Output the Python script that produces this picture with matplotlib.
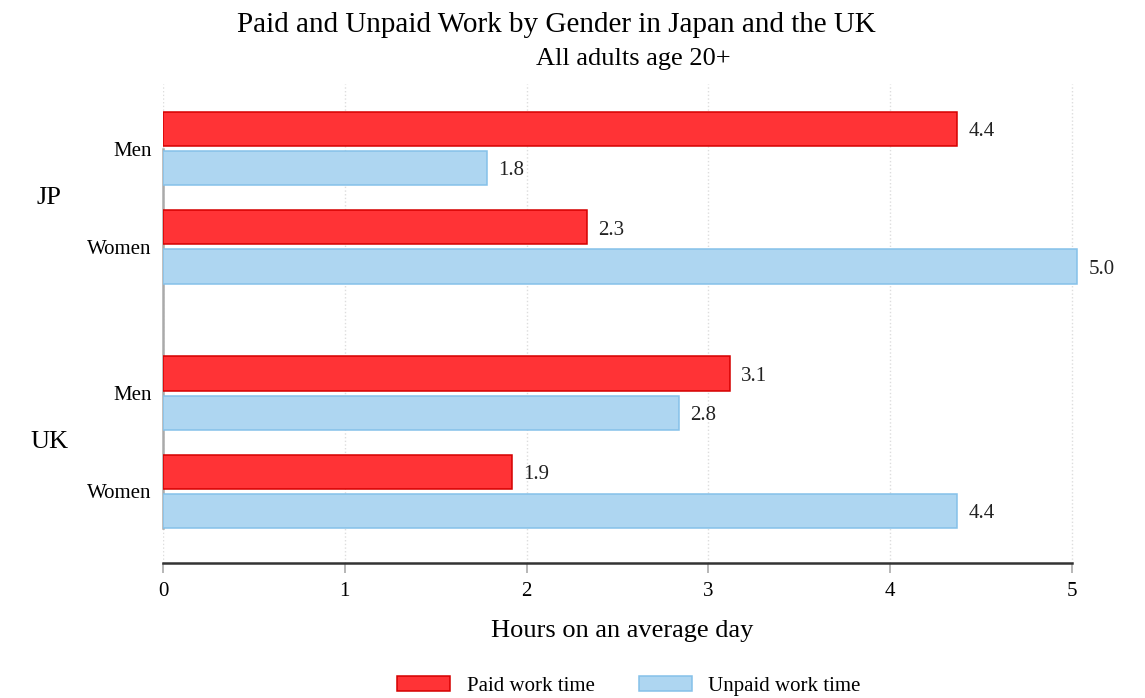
import numpy as np
import matplotlib
matplotlib.use('Agg')
import matplotlib.pyplot as plt
import matplotlib.transforms as mtransforms

plt.rcParams['font.family'] = ['Liberation Serif', 'DejaVu Serif']

# Data (hours on an average day)
countries = ['JP', 'UK']
genders = ['Men', 'Women', 'Men', 'Women']
paidWork = [4.37, 2.33, 3.12, 1.92]
unpaidWork = [1.78, 5.03, 2.84, 4.37]
xTicks = [0, 1, 2, 3, 4, 5]

# Positions of each gender row (JP rows, gap, UK rows)
rowPos = np.array([0.0, 1.0, 2.49, 3.49])
offset = 0.199
barHeight = 0.35

paidFace, paidEdge = '#ff3336', '#d50000'
unpaidFace, unpaidEdge = '#aed6f1', '#85c1e9'

fig = plt.figure(figsize=(11.45, 6.98), dpi=100)
ax = fig.add_axes([163/1145, 1 - 563/698, 918/1145, (563-84)/698])

ax.barh(rowPos - offset, paidWork, height=barHeight, color=paidFace,
        edgecolor=paidEdge, linewidth=1.1, label='Paid work time', zorder=3)
ax.barh(rowPos + offset, unpaidWork, height=barHeight, color=unpaidFace,
        edgecolor=unpaidEdge, linewidth=1.1, label='Unpaid work time', zorder=3)

# Value labels
for y, v in zip(rowPos - offset, paidWork):
    ax.annotate('%.1f' % v, (v, y), xytext=(8, -2), textcoords='offset points',
                va='center', ha='left', fontsize=15, color='#222222')
for y, v in zip(rowPos + offset, unpaidWork):
    ax.annotate('%.1f' % v, (v, y), xytext=(8, -2), textcoords='offset points',
                va='center', ha='left', fontsize=15, color='#222222')

ax.set_xlim(0, 5.05)
ax.set_ylim(4.219, -0.658)
ax.set_xticks(xTicks)
ax.set_xticklabels([str(t) for t in xTicks], fontsize=15)
ax.set_yticks(rowPos)
ax.set_yticklabels(genders, fontsize=15)
ax.tick_params(axis='y', length=0, pad=8)
ax.tick_params(axis='x', length=7, color='#aaaaaa', width=1.2, pad=7)

ax.xaxis.grid(True, linestyle=':', color='#dddddd', linewidth=1.0, zorder=0)
ax.set_axisbelow(True)

for s in ['top', 'right']:
    ax.spines[s].set_visible(False)
ax.spines['bottom'].set_color('#333333')
ax.spines['bottom'].set_linewidth(1.8)
ax.spines['bottom'].set_bounds(0, 5)
ax.spines['left'].set_color('#aaaaaa')
ax.spines['left'].set_linewidth(1.8)
ax.spines['left'].set_bounds(0, rowPos[-1] + offset + barHeight / 2)

ax.set_xlabel('Hours on an average day', fontsize=19, labelpad=13)

# Country labels
trans = mtransforms.blended_transform_factory(ax.transAxes, ax.transData)
ax.text(-0.124, (rowPos[0] + rowPos[1]) / 2, countries[0], transform=trans,
        ha='center', va='center', fontsize=19)
ax.text(-0.124, (rowPos[2] + rowPos[3]) / 2, countries[1], transform=trans,
        ha='center', va='center', fontsize=19)

fig.text(556/1145, 1 - 25/698, 'Paid and Unpaid Work by Gender in Japan and the UK',
         ha='center', va='center', fontsize=21)
fig.text(633/1145, 1 - 59/698, 'All adults age 20+', ha='center', va='center', fontsize=19)

fig.legend(loc='center', bbox_to_anchor=(629/1145, 1 - 686/698), ncol=2,
           frameon=False, fontsize=15, handlelength=2.55, handleheight=0.72,
           handletextpad=0.8, columnspacing=2.1)

fig.savefig('out.png', dpi=100)
